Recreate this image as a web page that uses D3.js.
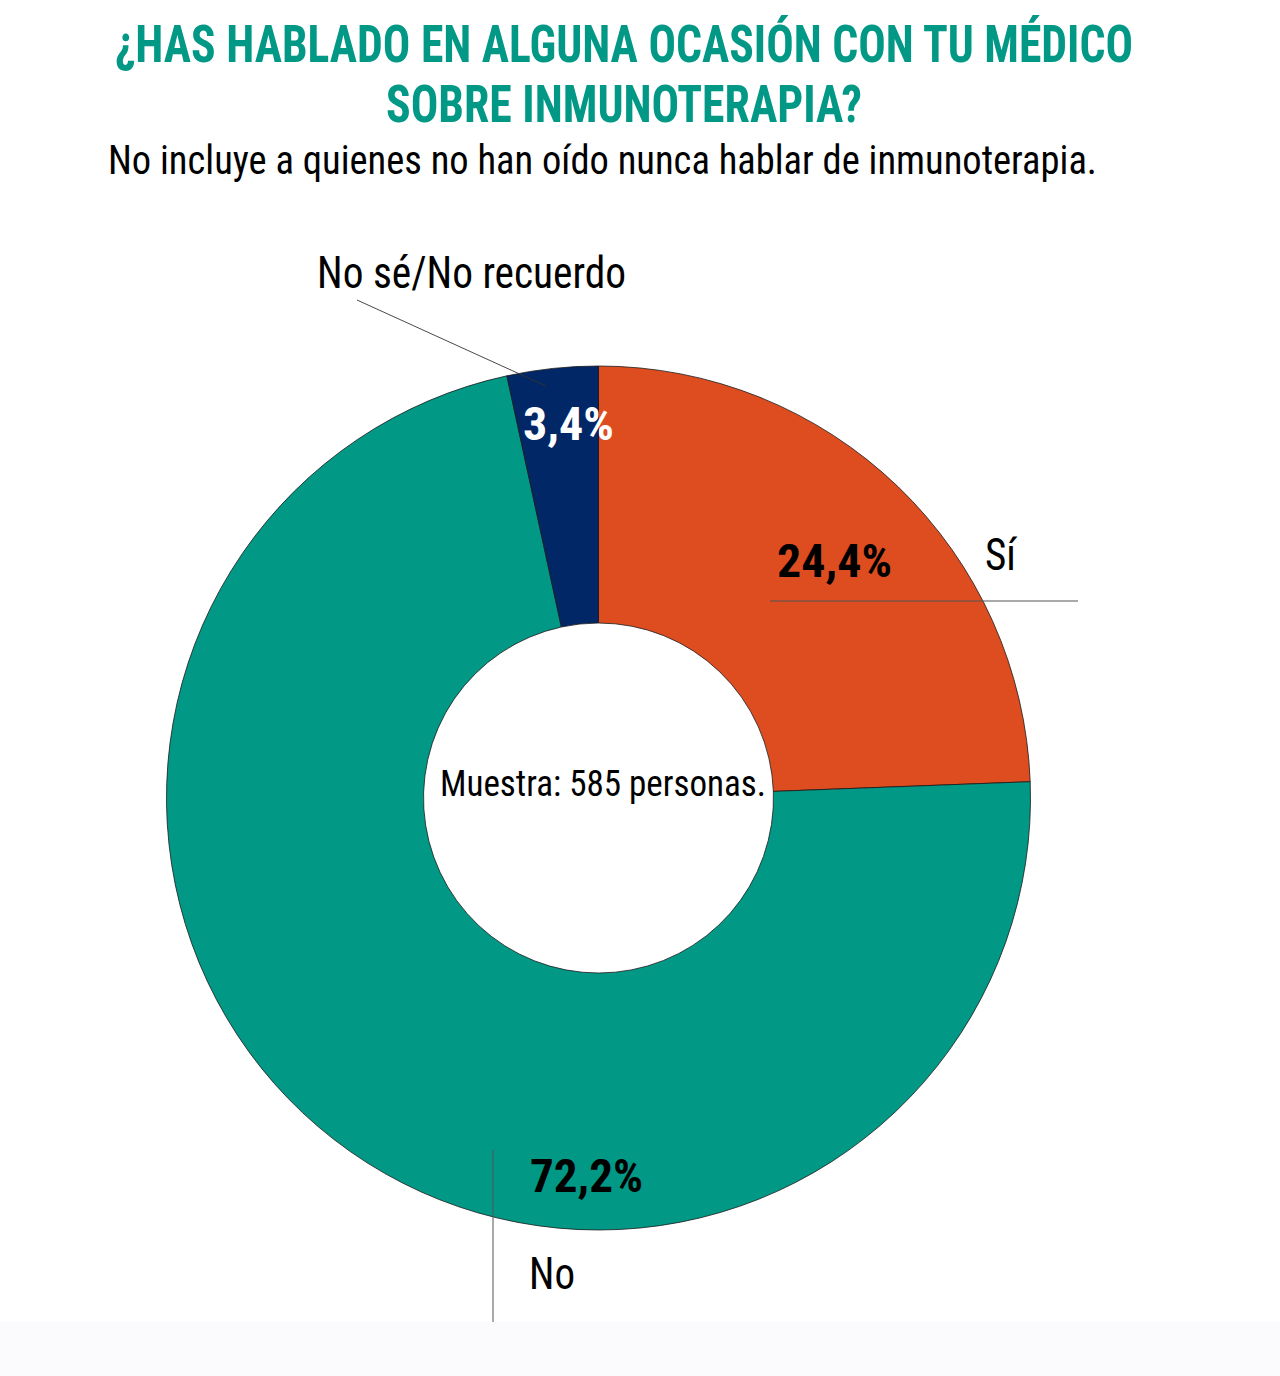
<!DOCTYPE html>
<html><head><meta charset="utf-8">
<script src="https://cdn.jsdelivr.net/npm/d3@7"></script>
<style>
html,body{margin:0;padding:0;background:#fff;}
svg{display:block;}
</style></head>
<body>
<svg id="chart" width="1280" height="1376"></svg>
<script>
const categories = ["Sí", "No", "No sé/No recuerdo"];
const values = [24.4, 72.2, 3.4];
const valueLabels = ["24,4%", "72,2%", "3,4%"];
const colors = ["#de4d20", "#029886", "#022767"];
const titleLines = ["¿HAS HABLADO EN ALGUNA OCASIÓN CON TU MÉDICO", "SOBRE INMUNOTERAPIA?"];
const subtitle = "No incluye a quienes no han oído nunca hablar de inmunoterapia.";
const centerNote = "Muestra: 585 personas.";

const FONT = "'Liberation Sans Narrow','Roboto Condensed','Liberation Sans',Arial,sans-serif";
const svg = d3.select("#chart");

svg.append("rect").attr("x",0).attr("y",1322).attr("width",1280).attr("height",54).attr("fill","#fbfbfd");

function fitText(sel, w){ sel.attr("textLength", w).attr("lengthAdjust","spacingAndGlyphs"); return sel; }

// title
fitText(svg.append("text").attr("x",115).attr("y",62).attr("font-family",FONT).attr("font-weight","bold")
  .attr("font-size",51).attr("fill","#029886").text(titleLines[0]), 1018);
fitText(svg.append("text").attr("x",386).attr("y",122).attr("font-family",FONT).attr("font-weight","bold")
  .attr("font-size",51).attr("fill","#029886").text(titleLines[1]), 476);
fitText(svg.append("text").attr("x",108).attr("y",174).attr("font-family",FONT)
  .attr("font-size",41).attr("fill","#000").text(subtitle), 989);

const cx = 598.5, cy = 798, R = 432, r = 175;
const g = svg.append("g").attr("transform",`translate(${cx},${cy})`);
const pie = d3.pie().sort(null).value(d=>d)(values);
const arc = d3.arc().innerRadius(r).outerRadius(R);
g.selectAll("path").data(pie).join("path")
  .attr("d", arc).attr("fill",(d,i)=>colors[i]).attr("stroke","#1a1a1a").attr("stroke-width",0.8);

// leader lines
svg.append("line").attr("x1",357).attr("y1",300).attr("x2",546).attr("y2",386).attr("stroke","#333").attr("stroke-width",0.9);
svg.append("line").attr("x1",770).attr("y1",601).attr("x2",1078).attr("y2",601).attr("stroke","#555").attr("stroke-width",1);
svg.append("line").attr("x1",493).attr("y1",1150).attr("x2",493).attr("y2",1322).attr("stroke","#555").attr("stroke-width",1);

// labels
fitText(svg.append("text").attr("x",317).attr("y",288).attr("font-family",FONT).attr("font-size",44).attr("fill","#000").text(categories[2]), 309);
fitText(svg.append("text").attr("x",523).attr("y",440).attr("font-family",FONT).attr("font-weight","bold").attr("font-size",47).attr("fill","#fff").text(valueLabels[2]), 91);
fitText(svg.append("text").attr("x",777).attr("y",577).attr("font-family",FONT).attr("font-weight","bold").attr("font-size",47).attr("fill","#000").text(valueLabels[0]), 115);
fitText(svg.append("text").attr("x",985).attr("y",570).attr("font-family",FONT).attr("font-size",44).attr("fill","#000").text(categories[0]), 31);
fitText(svg.append("text").attr("x",530).attr("y",1192).attr("font-family",FONT).attr("font-weight","bold").attr("font-size",47).attr("fill","#000").text(valueLabels[1]), 113);
fitText(svg.append("text").attr("x",529).attr("y",1289).attr("font-family",FONT).attr("font-size",44).attr("fill","#000").text(categories[1]), 46);
fitText(svg.append("text").attr("x",440).attr("y",796).attr("font-family",FONT).attr("font-size",37).attr("fill","#000").text(centerNote), 326);
</script>
</body></html>
